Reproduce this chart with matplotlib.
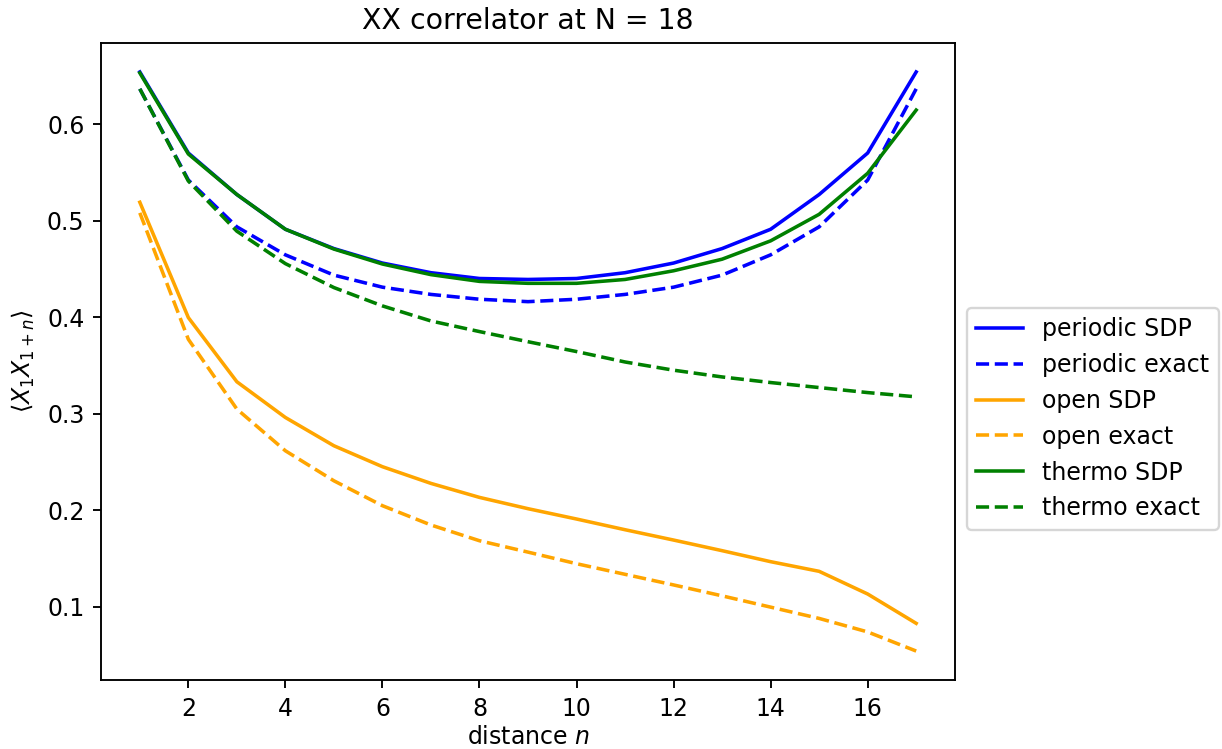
import matplotlib
matplotlib.use("Agg")
import matplotlib.pyplot as plt
import numpy as np

n = list(range(1, 18))

periodic_sdp = [0.654, 0.570, 0.527, 0.491, 0.471, 0.456, 0.446, 0.440, 0.439,
                0.440, 0.446, 0.456, 0.471, 0.491, 0.527, 0.570, 0.654]
periodic_exact = [0.6365, 0.542, 0.4935, 0.4645, 0.4435, 0.431, 0.4235, 0.4185, 0.416,
                  0.4185, 0.4235, 0.431, 0.4435, 0.4645, 0.4935, 0.542, 0.6365]
open_sdp = [0.519, 0.3995, 0.333, 0.296, 0.2667, 0.245, 0.2277, 0.2132, 0.2015,
            0.1908, 0.1797, 0.169, 0.158, 0.1466, 0.1366, 0.1131, 0.0827]
open_exact = [0.508, 0.377, 0.3047, 0.2615, 0.2304, 0.2046, 0.1846, 0.1683, 0.1565,
              0.1445, 0.1335, 0.1225, 0.1112, 0.0995, 0.0878, 0.0738, 0.0540]
thermo_sdp = [0.653, 0.569, 0.527, 0.491, 0.4705, 0.455, 0.444, 0.437, 0.435,
              0.435, 0.439, 0.448, 0.460, 0.479, 0.5065, 0.549, 0.6145]
thermo_exact = [0.6365, 0.541, 0.489, 0.4554, 0.4306, 0.4116, 0.396, 0.385, 0.3745,
                0.3643, 0.3535, 0.345, 0.338, 0.3322, 0.327, 0.3218, 0.3174]

DPI = 170
fig = plt.figure(figsize=(1222/DPI, 749/DPI), dpi=DPI)
ax = fig.add_axes([101/1222, 69/749, 854/1222, 637/749])

ax.plot(n, periodic_sdp, color="blue", linestyle="-", label="periodic SDP")
ax.plot(n, periodic_exact, color="blue", linestyle="--", label="periodic exact")
ax.plot(n, open_sdp, color="orange", linestyle="-", label="open SDP")
ax.plot(n, open_exact, color="orange", linestyle="--", label="open exact")
ax.plot(n, thermo_sdp, color="green", linestyle="-", label="thermo SDP")
ax.plot(n, thermo_exact, color="green", linestyle="--", label="thermo exact")

ax.set_title("XX correlator at N = 18")
ax.set_xlabel("distance $n$", labelpad=2)
ax.set_ylabel(r"$\langle X_1 X_{1+n} \rangle$")
ax.legend(loc="center left", bbox_to_anchor=(1.0, 0.41))

fig.savefig("out.png", dpi=DPI)
